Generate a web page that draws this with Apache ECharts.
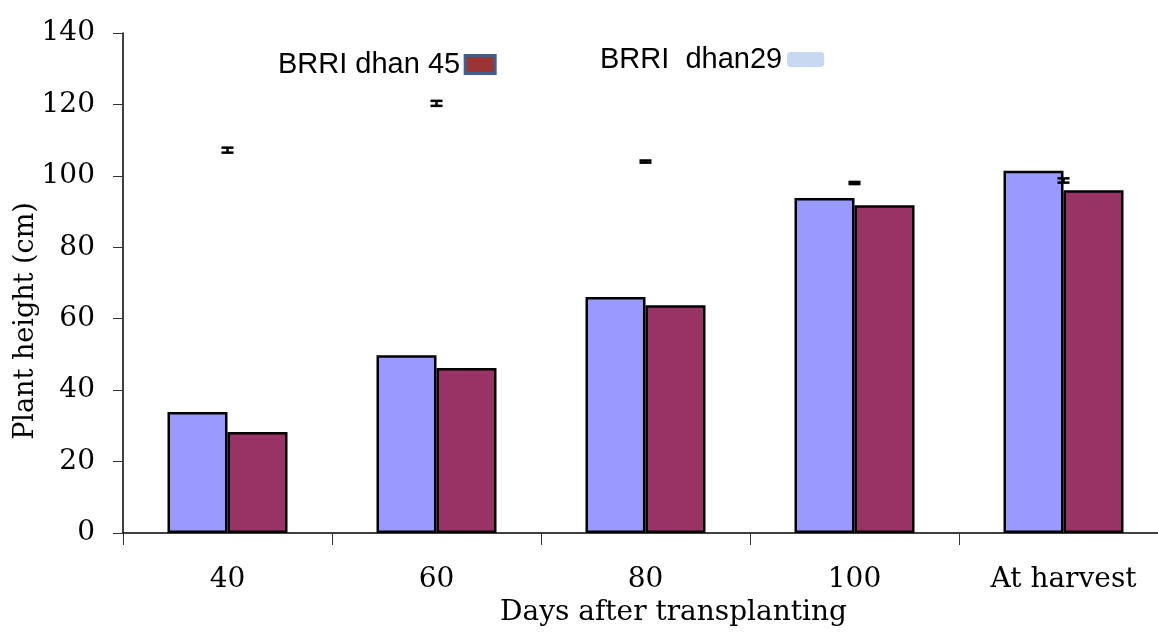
<!DOCTYPE html>
<html>
<head>
<meta charset="utf-8">
<script src="https://cdn.jsdelivr.net/npm/echarts@6/dist/echarts.min.js"></script>
<style>
  html, body { margin: 0; padding: 0; background: #fff; }
  #chart { width: 1158px; height: 633px; }
</style>
</head>
<body>
<div id="chart"></div>
<script>
// Plant height of two rice varieties at successive growth stages
const categories = ['40', '60', '80', '100', 'At harvest'];
const dhan29 = [33.9, 49.8, 66.1, 93.8, 101.4];
const dhan45 = [28.3, 46.2, 63.8, 91.8, 96.0];
// floating error markers: mean and half-range
const errMean = [107.2, 120.3, 104.0, 98.0, 98.7];
const errHalf = [0.7, 0.7, 0.3, 0.3, 0.6];
const yTicks = { min: 0, max: 140, interval: 20 };

const serif = 'DejaVu Serif';
const sans = 'Liberation Sans';

const errData = categories.map((c, i) => [i, errMean[i] - errHalf[i], errMean[i] + errHalf[i]]);

const chart = echarts.init(document.getElementById('chart'));
chart.setOption({
  animation: false,
  backgroundColor: '#fff',
  // plot area runs slightly past the right edge of the canvas
  grid: { left: 123, width: 1045, top: 33, height: 500, outerBoundsMode: 'none', containLabel: false },
  legend: [
    {
      left: 273, top: 45,
      align: 'right',
      itemWidth: 30, itemHeight: 18,
      selectedMode: false,
      textStyle: { fontFamily: sans, fontSize: 29, color: '#000' },
      data: [{ name: 'BRRI dhan 45', icon: 'rect',
               itemStyle: { color: '#9B3535', borderColor: '#3F5F8F', borderWidth: 3 } }]
    },
    {
      left: 595, top: 40,
      align: 'right',
      itemWidth: 37, itemHeight: 15,
      selectedMode: false,
      textStyle: { fontFamily: sans, fontSize: 29, color: '#000' },
      data: [{ name: 'BRRI  dhan29', icon: 'roundRect',
               itemStyle: { color: '#C6D9F1', borderWidth: 0 } }]
    }
  ],
  xAxis: {
    type: 'category',
    data: categories,
    boundaryGap: true,
    name: 'Days after transplanting',
    nameLocation: 'middle',
    nameGap: 65,
    nameTextStyle: { fontFamily: serif, fontSize: 28, color: '#000', padding: [0, 0, 0, 56] },
    axisLine: { lineStyle: { color: '#000', width: 1.5 } },
    axisTick: { show: true, length: 12, lineStyle: { color: '#333', width: 1 } },
    axisLabel: { fontFamily: serif, fontSize: 28, color: '#000', margin: 33 },
    splitLine: { show: false }
  },
  yAxis: {
    type: 'value',
    min: yTicks.min, max: yTicks.max, interval: yTicks.interval,
    name: 'Plant height (cm)',
    nameLocation: 'middle',
    nameGap: 84,
    nameMoveOverlap: false,
    nameTextStyle: { fontFamily: serif, fontSize: 27, color: '#000', padding: [0, 76, 0, 0] },
    axisLine: { show: true, lineStyle: { color: '#000', width: 1.5 } },
    axisTick: { show: true, length: 10, lineStyle: { color: '#333', width: 1 } },
    axisLabel: { fontFamily: serif, fontSize: 28, color: '#000', margin: 28 },
    splitLine: { show: false }
  },
  series: [
    {
      name: 'BRRI  dhan29',
      type: 'bar',
      data: dhan29,
      barWidth: 60,
      barGap: '0%',
      itemStyle: { color: '#9999FF', borderColor: '#000', borderWidth: 2.5 }
    },
    {
      name: 'BRRI dhan 45',
      type: 'bar',
      data: dhan45,
      barWidth: 60,
      barGap: '0%',
      itemStyle: { color: '#993366', borderColor: '#000', borderWidth: 2.5 }
    },
    {
      name: 'error',
      type: 'custom',
      data: errData,
      z: 10,
      renderItem: function (params, api) {
        const x = api.value(0);
        const lo = api.coord([x, api.value(1)]);
        const hi = api.coord([x, api.value(2)]);
        const half = 6;
        const style = { stroke: '#000', lineWidth: 2.5 };
        return {
          type: 'group',
          children: [
            { type: 'line', shape: { x1: lo[0], y1: lo[1], x2: hi[0], y2: hi[1] }, style: style },
            { type: 'line', shape: { x1: lo[0] - half, y1: lo[1], x2: lo[0] + half, y2: lo[1] }, style: style },
            { type: 'line', shape: { x1: hi[0] - half, y1: hi[1], x2: hi[0] + half, y2: hi[1] }, style: style }
          ]
        };
      }
    }
  ]
});
</script>
</body>
</html>
